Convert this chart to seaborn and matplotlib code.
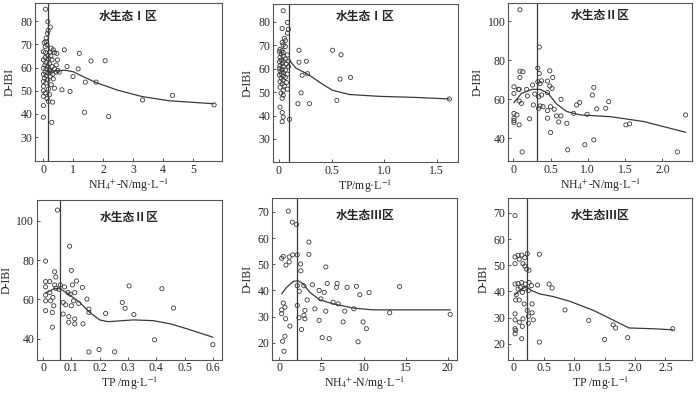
import matplotlib
matplotlib.use('Agg')
import matplotlib.pyplot as plt
import seaborn as sns
import pandas as pd

# ---- data (x, D-IBI) ----
z1_nh4 = [(0.08, 85.1), (0.16, 79.7), (0.24, 77.4), (0.17, 76.0), (0.15, 74.7), (0.10, 72.6),
          (0.10, 71.1), (0.04, 70.7), (0.13, 69.7), (0.07, 69.0), (0.27, 68.3), (0.34, 67.6),
          (0.71, 67.6), (0.01, 66.8), (0.08, 66.4), (0.21, 66.5), (0.38, 66.4), (0.46, 66.1),
          (1.21, 66.1), (0.16, 65.1), (0.26, 65.0), (0.07, 64.3), (0.17, 63.7), (0.30, 63.3),
          (0.01, 63.3), (0.48, 63.3), (1.60, 62.8), (0.10, 62.1), (0.21, 61.6), (0.06, 61.1),
          (0.44, 61.1), (0.16, 60.4), (0.30, 60.4), (0.80, 60.4), (0.01, 59.7), (0.10, 59.4),
          (0.38, 59.4), (1.17, 59.4), (0.21, 58.7), (0.49, 58.7), (0.27, 58.3), (0.07, 58.0),
          (0.44, 58.0), (0.54, 58.0), (0.16, 57.6), (0.01, 57.1), (0.32, 57.1), (0.10, 56.4),
          (0.24, 56.1), (1.00, 56.1), (0.04, 55.4), (0.34, 55.1), (0.16, 54.7), (0.01, 54.0),
          (1.41, 53.7), (1.77, 53.7), (0.10, 53.3), (0.27, 52.6), (0.01, 51.9), (0.38, 51.1),
          (0.18, 50.7), (0.63, 50.4), (0.90, 49.7), (0.01, 50.0), (0.07, 49.0), (0.21, 48.3),
          (0.01, 47.6), (0.13, 46.6), (0.32, 45.1), (0.18, 45.4), (0.01, 43.6), (1.38, 40.7),
          (0.01, 38.6), (0.29, 36.4), (2.07, 62.9), (2.19, 38.9), (3.32, 46.0), (4.32, 48.0),
          (5.71, 43.9)]
z1_nh4_fit = [(0.15, 58.3), (0.4, 58.6), (0.75, 58.8), (1.0, 58.2), (1.3, 56.3), (1.75, 53.6),
              (2.5, 50.2), (3.3, 47.5), (4.2, 45.7), (5.0, 45.0), (5.7, 44.4)]

z1_tp = [(0.04, 84.8), (0.08, 79.8), (0.03, 77.2), (0.09, 76.9), (0.08, 75.2), (0.05, 73.0),
         (0.06, 72.0), (0.03, 71.2), (0.04, 70.2), (0.06, 69.5), (0.01, 68.3), (0.03, 67.8),
         (0.005, 67.3), (0.04, 66.9), (0.02, 66.3), (0.08, 65.9), (0.04, 65.4), (0.01, 64.9),
         (0.06, 64.2), (0.02, 63.7), (0.04, 63.3), (0.09, 63.3), (0.005, 63.0), (0.03, 62.3),
         (0.07, 62.0), (0.01, 61.3), (0.04, 60.9), (0.09, 60.9), (0.005, 60.2), (0.03, 59.7),
         (0.06, 59.4), (0.01, 59.0), (0.04, 58.4), (0.02, 58.0), (0.08, 57.7), (0.005, 57.3),
         (0.04, 56.9), (0.06, 56.3), (0.02, 55.9), (0.04, 55.2), (0.01, 54.5), (0.07, 54.1),
         (0.03, 53.5), (0.05, 52.7), (0.01, 52.1), (0.08, 51.3), (0.04, 50.7), (0.02, 49.6),
         (0.04, 48.7), (0.03, 47.4), (0.01, 43.6), (0.03, 41.3), (0.04, 39.3), (0.03, 37.4),
         (0.10, 38.4), (0.19, 67.9), (0.51, 67.9), (0.59, 66.0), (0.19, 62.8), (0.26, 63.2),
         (0.27, 57.9), (0.22, 57.2), (0.58, 55.6), (0.68, 56.3), (0.21, 49.7), (0.55, 46.5),
         (0.18, 45.1), (0.29, 45.1), (1.62, 47.1)]
z1_tp_fit = [(0.095, 63.9), (0.16, 60.3), (0.28, 57.5), (0.42, 53.2), (0.51, 50.8), (0.67, 49.0),
             (0.96, 48.2), (1.27, 47.8), (1.62, 47.1)]

z2_nh4 = [(0.09, 105.8), (0.35, 86.7), (0.33, 75.9), (0.09, 74.3), (0.13, 74.0), (0.49, 74.5),
          (0.35, 73.1), (0.09, 71.1), (0.53, 71.1), (0.33, 68.9), (0.38, 69.4), (0.46, 69.2),
          (0.36, 68.0), (0.26, 67.2), (0.49, 66.7), (0.01, 66.3), (1.08, 66.0), (0.52, 65.5),
          (0.08, 65.0), (0.07, 65.0), (0.18, 65.0), (0.46, 63.3), (0.01, 62.9), (0.29, 62.6),
          (0.34, 61.2), (0.19, 61.6), (1.06, 62.1), (0.38, 62.1), (0.64, 59.9), (0.89, 58.2),
          (1.28, 58.7), (0.85, 57.0), (0.08, 59.0), (0.11, 57.8), (0.27, 57.0), (0.36, 56.5),
          (0.40, 56.1), (0.50, 56.1), (0.34, 55.3), (1.12, 55.0), (1.24, 55.3), (0.55, 54.8),
          (0.46, 54.1), (0.81, 52.7), (0.99, 52.2), (0.01, 52.7), (0.05, 51.9), (0.58, 51.4),
          (0.64, 51.4), (2.31, 51.9), (0.46, 50.2), (0.22, 49.9), (0.01, 50.2), (0.01, 49.0),
          (0.01, 48.0), (0.61, 48.3), (0.08, 46.8), (0.72, 47.6), (1.51, 46.8), (1.56, 47.3),
          (0.50, 42.9), (1.08, 39.1), (0.96, 36.6), (0.73, 34.0), (0.12, 32.9), (2.2, 32.9)]
z2_nh4_fit = [(0.01, 58.2), (0.11, 62.9), (0.25, 65.0), (0.36, 65.0), (0.47, 62.9), (0.58, 57.5),
              (0.72, 53.6), (0.9, 51.9), (1.3, 51.0), (1.75, 48.5), (2.31, 43.0)]

z2_tp = [(0.051, 105.5), (0.094, 87.1), (0.009, 79.5), (0.10, 74.8), (0.041, 74.1), (0.045, 71.4),
         (0.118, 69.4), (0.009, 69.1), (0.024, 69.1), (0.104, 67.4), (0.139, 66.1), (0.304, 66.9),
         (0.061, 67.4), (0.041, 67.4), (0.009, 66.4), (0.076, 66.4), (0.42, 65.5), (0.045, 65.7),
         (0.056, 65.2), (0.088, 63.5), (0.112, 63.5), (0.096, 62.7), (0.024, 63.5), (0.009, 62.2),
         (0.035, 61.0), (0.28, 58.5), (0.155, 60.2), (0.009, 59.3), (0.027, 59.3), (0.071, 58.5),
         (0.108, 59.3), (0.126, 58.0), (0.08, 57.3), (0.038, 56.8), (0.10, 56.8), (0.162, 55.1),
         (0.29, 55.5), (0.461, 55.6), (0.071, 52.6), (0.162, 53.4), (0.221, 52.9), (0.321, 52.3),
         (0.033, 53.4), (0.009, 54.3), (0.091, 51.3), (0.112, 50.1), (0.112, 47.6), (0.141, 47.6),
         (0.091, 48.4), (0.033, 45.9), (0.394, 39.5), (0.162, 33.3), (0.198, 34.5), (0.253, 33.3),
         (0.60, 37.0)]
z2_tp_fit = [(0.009, 63.4), (0.041, 65.5), (0.059, 65.5), (0.082, 63.5), (0.13, 58.5), (0.165, 53.4),
             (0.2, 49.6), (0.23, 48.7), (0.32, 49.6), (0.39, 49.2), (0.45, 47.6), (0.51, 45.0),
             (0.6, 40.8)]

z3_nh4 = [(1.07, 70.3), (1.54, 66.1), (2.05, 65.2), (3.51, 58.5), (3.51, 53.8), (0.47, 53.0),
          (0.28, 52.3), (1.18, 52.8), (1.58, 53.6), (2.13, 53.6), (1.18, 50.9), (0.79, 49.7),
          (2.52, 50.1), (5.52, 49.0), (2.56, 47.5), (5.68, 42.7), (6.86, 42.7), (6.78, 41.2),
          (8.05, 41.2), (9.15, 41.6), (14.28, 41.5), (2.13, 41.8), (3.94, 42.2), (2.92, 41.8),
          (2.37, 39.7), (4.73, 40.0), (5.33, 39.3), (9.55, 38.4), (10.65, 39.2), (3.31, 36.4),
          (4.93, 36.8), (6.39, 35.5), (6.98, 34.9), (2.13, 34.3), (0.47, 35.2), (0.67, 33.6),
          (0.28, 32.6), (3.04, 32.4), (4.22, 33.0), (5.52, 32.1), (7.77, 32.1), (8.84, 33.0),
          (0.28, 31.1), (2.92, 30.5), (3.04, 29.2), (0.75, 29.2), (2.33, 29.6), (7.57, 28.0),
          (9.94, 28.0), (4.73, 28.6), (1.26, 26.4), (10.33, 25.4), (13.1, 31.5), (20.28, 30.9),
          (0.67, 22.5), (5.09, 22.0), (5.92, 21.6), (9.35, 20.4), (0.39, 20.6), (0.55, 16.8),
          (2.64, 25.1)]
z3_nh4_fit = [(0.28, 38.7), (0.87, 41.2), (1.66, 43.5), (2.25, 43.7), (2.84, 42.5), (3.63, 39.3),
              (4.81, 36.4), (6.39, 34.9), (8.76, 33.3), (11.1, 32.6), (15.9, 32.6), (20.3, 32.6)]

z3_tp = [(0.03, 69.0), (0.43, 54.2), (0.23, 54.4), (0.03, 53.2), (0.08, 53.8), (0.14, 53.9),
         (0.19, 52.9), (0.10, 52.3), (0.03, 50.6), (0.16, 50.6), (0.19, 49.7), (0.22, 48.5),
         (0.26, 48.1), (0.03, 42.8), (0.08, 43.0), (0.14, 43.4), (0.20, 42.8), (0.26, 43.4),
         (0.30, 42.2), (0.40, 42.4), (0.59, 42.8), (0.64, 41.3), (0.12, 41.5), (0.18, 41.1),
         (0.08, 40.9), (0.25, 40.3), (0.15, 39.6), (0.05, 38.7), (0.10, 36.7), (0.04, 36.7),
         (0.18, 35.2), (0.31, 35.2), (0.23, 32.7), (0.85, 32.9), (0.03, 31.4), (0.31, 31.8),
         (0.25, 30.5), (0.03, 29.1), (0.16, 29.5), (0.33, 29.1), (0.10, 28.2), (0.25, 27.8),
         (1.24, 28.9), (1.64, 27.2), (1.68, 26.0), (0.15, 26.6), (0.03, 25.7), (0.04, 25.1),
         (0.03, 23.8), (0.14, 21.9), (0.43, 20.6), (1.50, 21.6), (1.88, 22.3), (2.62, 25.7)]
z3_tp_fit = [(0.03, 38.7), (0.14, 40.9), (0.22, 41.8), (0.30, 40.3), (0.44, 39.0), (0.66, 38.0),
             (0.93, 36.2), (1.32, 32.7), (1.65, 28.9), (1.9, 26.0), (2.3, 25.7), (2.62, 25.3)]

titles = ['水生态Ⅰ区', '水生态Ⅰ区', '水生态Ⅱ区', '水生态Ⅱ区', '水生态Ⅲ区', '水生态Ⅲ区']
xlabels = [r'NH$_4$$^{+}$-N/mg·L$^{-1}$', r'TP/mg·L$^{-1}$', r'NH$_4$$^{+}$-N/mg·L$^{-1}$',
           r'TP /mg·L$^{-1}$', r'NH$_4$$^{+}$-N/mg·L$^{-1}$', r'TP /mg·L$^{-1}$']
thresholds = [0.15, 0.095, 0.315, 0.059, 2.05, 0.23]
xtick_vals = [[0, 1, 2, 3, 4, 5], [0, 0.5, 1.0, 1.5], [0, 0.5, 1.0, 1.5, 2.0],
              [0, 0.1, 0.2, 0.3, 0.4, 0.5, 0.6], [0, 5, 10, 15, 20], [0, 0.5, 1.0, 1.5, 2.0, 2.5]]
xtick_labels = [['0', '1', '2', '3', '4', '5'], ['0', '0.5', '1.0', '1.5'],
                ['0', '0.5', '1.0', '1.5', '2.0'], ['0', '0.1', '0.2', '0.3', '0.4', '0.5', '0.6'],
                ['0', '5', '10', '15', '20'], ['0', '0.5', '1.0', '1.5', '2.0', '2.5']]
ytick_vals = [[30, 40, 50, 60, 70, 80], [30, 40, 50, 60, 70, 80], [40, 60, 80, 100],
              [40, 60, 80, 100], [20, 30, 40, 50, 60, 70], [20, 30, 40, 50, 60, 70]]

scatter_sets = [z1_nh4, z1_tp, z2_nh4, z2_tp, z3_nh4, z3_tp]
fit_sets = [z1_nh4_fit, z1_tp_fit, z2_nh4_fit, z2_tp_fit, z3_nh4_fit, z3_tp_fit]

# layout
rects = [[0.050, 0.590, 0.267, 0.402], [0.390, 0.588, 0.264, 0.402], [0.726, 0.590, 0.263, 0.402],
         [0.053, 0.085, 0.264, 0.406], [0.389, 0.085, 0.264, 0.411], [0.726, 0.085, 0.263, 0.411]]
xlims = [(-0.27, 5.97), (-0.057, 1.70), (-0.067, 2.40), (-0.021, 0.632), (-0.83, 21.1), (-0.082, 2.94)]
ylims = [(19.7, 87.7), (20.2, 87.7), (28.2, 109.2), (29.4, 110.6), (13.6, 75.3), (13.9, 75.7)]
title_y = [0.915, 0.92, 0.92, 0.89, 0.89, 0.89]

sns.set_style('ticks')
plt.rcParams['font.family'] = ['Liberation Serif', 'DejaVu Serif']
plt.rcParams['mathtext.fontset'] = 'stix'

ink = '#3a3a3a'
fig = plt.figure(figsize=(7, 3.93), dpi=100)

for i in range(6):
    ax = fig.add_axes(rects[i])
    pts = pd.DataFrame(scatter_sets[i], columns=['x', 'y'])
    fit = pd.DataFrame(fit_sets[i], columns=['x', 'y'])
    sns.scatterplot(data=pts, x='x', y='y', ax=ax, marker='o', s=9,
                    facecolor='none', edgecolor=ink, linewidth=0.6)
    sns.lineplot(data=fit, x='x', y='y', ax=ax, color=ink, linewidth=0.9,
                 estimator=None, sort=False)
    ax.axvline(thresholds[i], color=ink, linewidth=0.9)
    ax.set_xlim(*xlims[i])
    ax.set_ylim(*ylims[i])
    ax.set_xticks(xtick_vals[i])
    ax.set_xticklabels(xtick_labels[i])
    ax.set_yticks(ytick_vals[i])
    ax.tick_params(labelsize=8.5, direction='in', length=2.5, width=0.6, color=ink, pad=2)
    for sp in ax.spines.values():
        sp.set_color('#555555')
        sp.set_linewidth(0.8)
    ax.set_xlabel(xlabels[i], fontsize=8.5, labelpad=0.5)
    ax.set_ylabel('D-IBI', fontsize=8.5, labelpad=3)
    ax.text(0.5, title_y[i], titles[i], transform=ax.transAxes, ha='center', va='center',
            fontsize=8.5, fontweight='bold', family=['Noto Sans CJK SC', 'DejaVu Sans'])

fig.savefig('out.png', dpi=100)
